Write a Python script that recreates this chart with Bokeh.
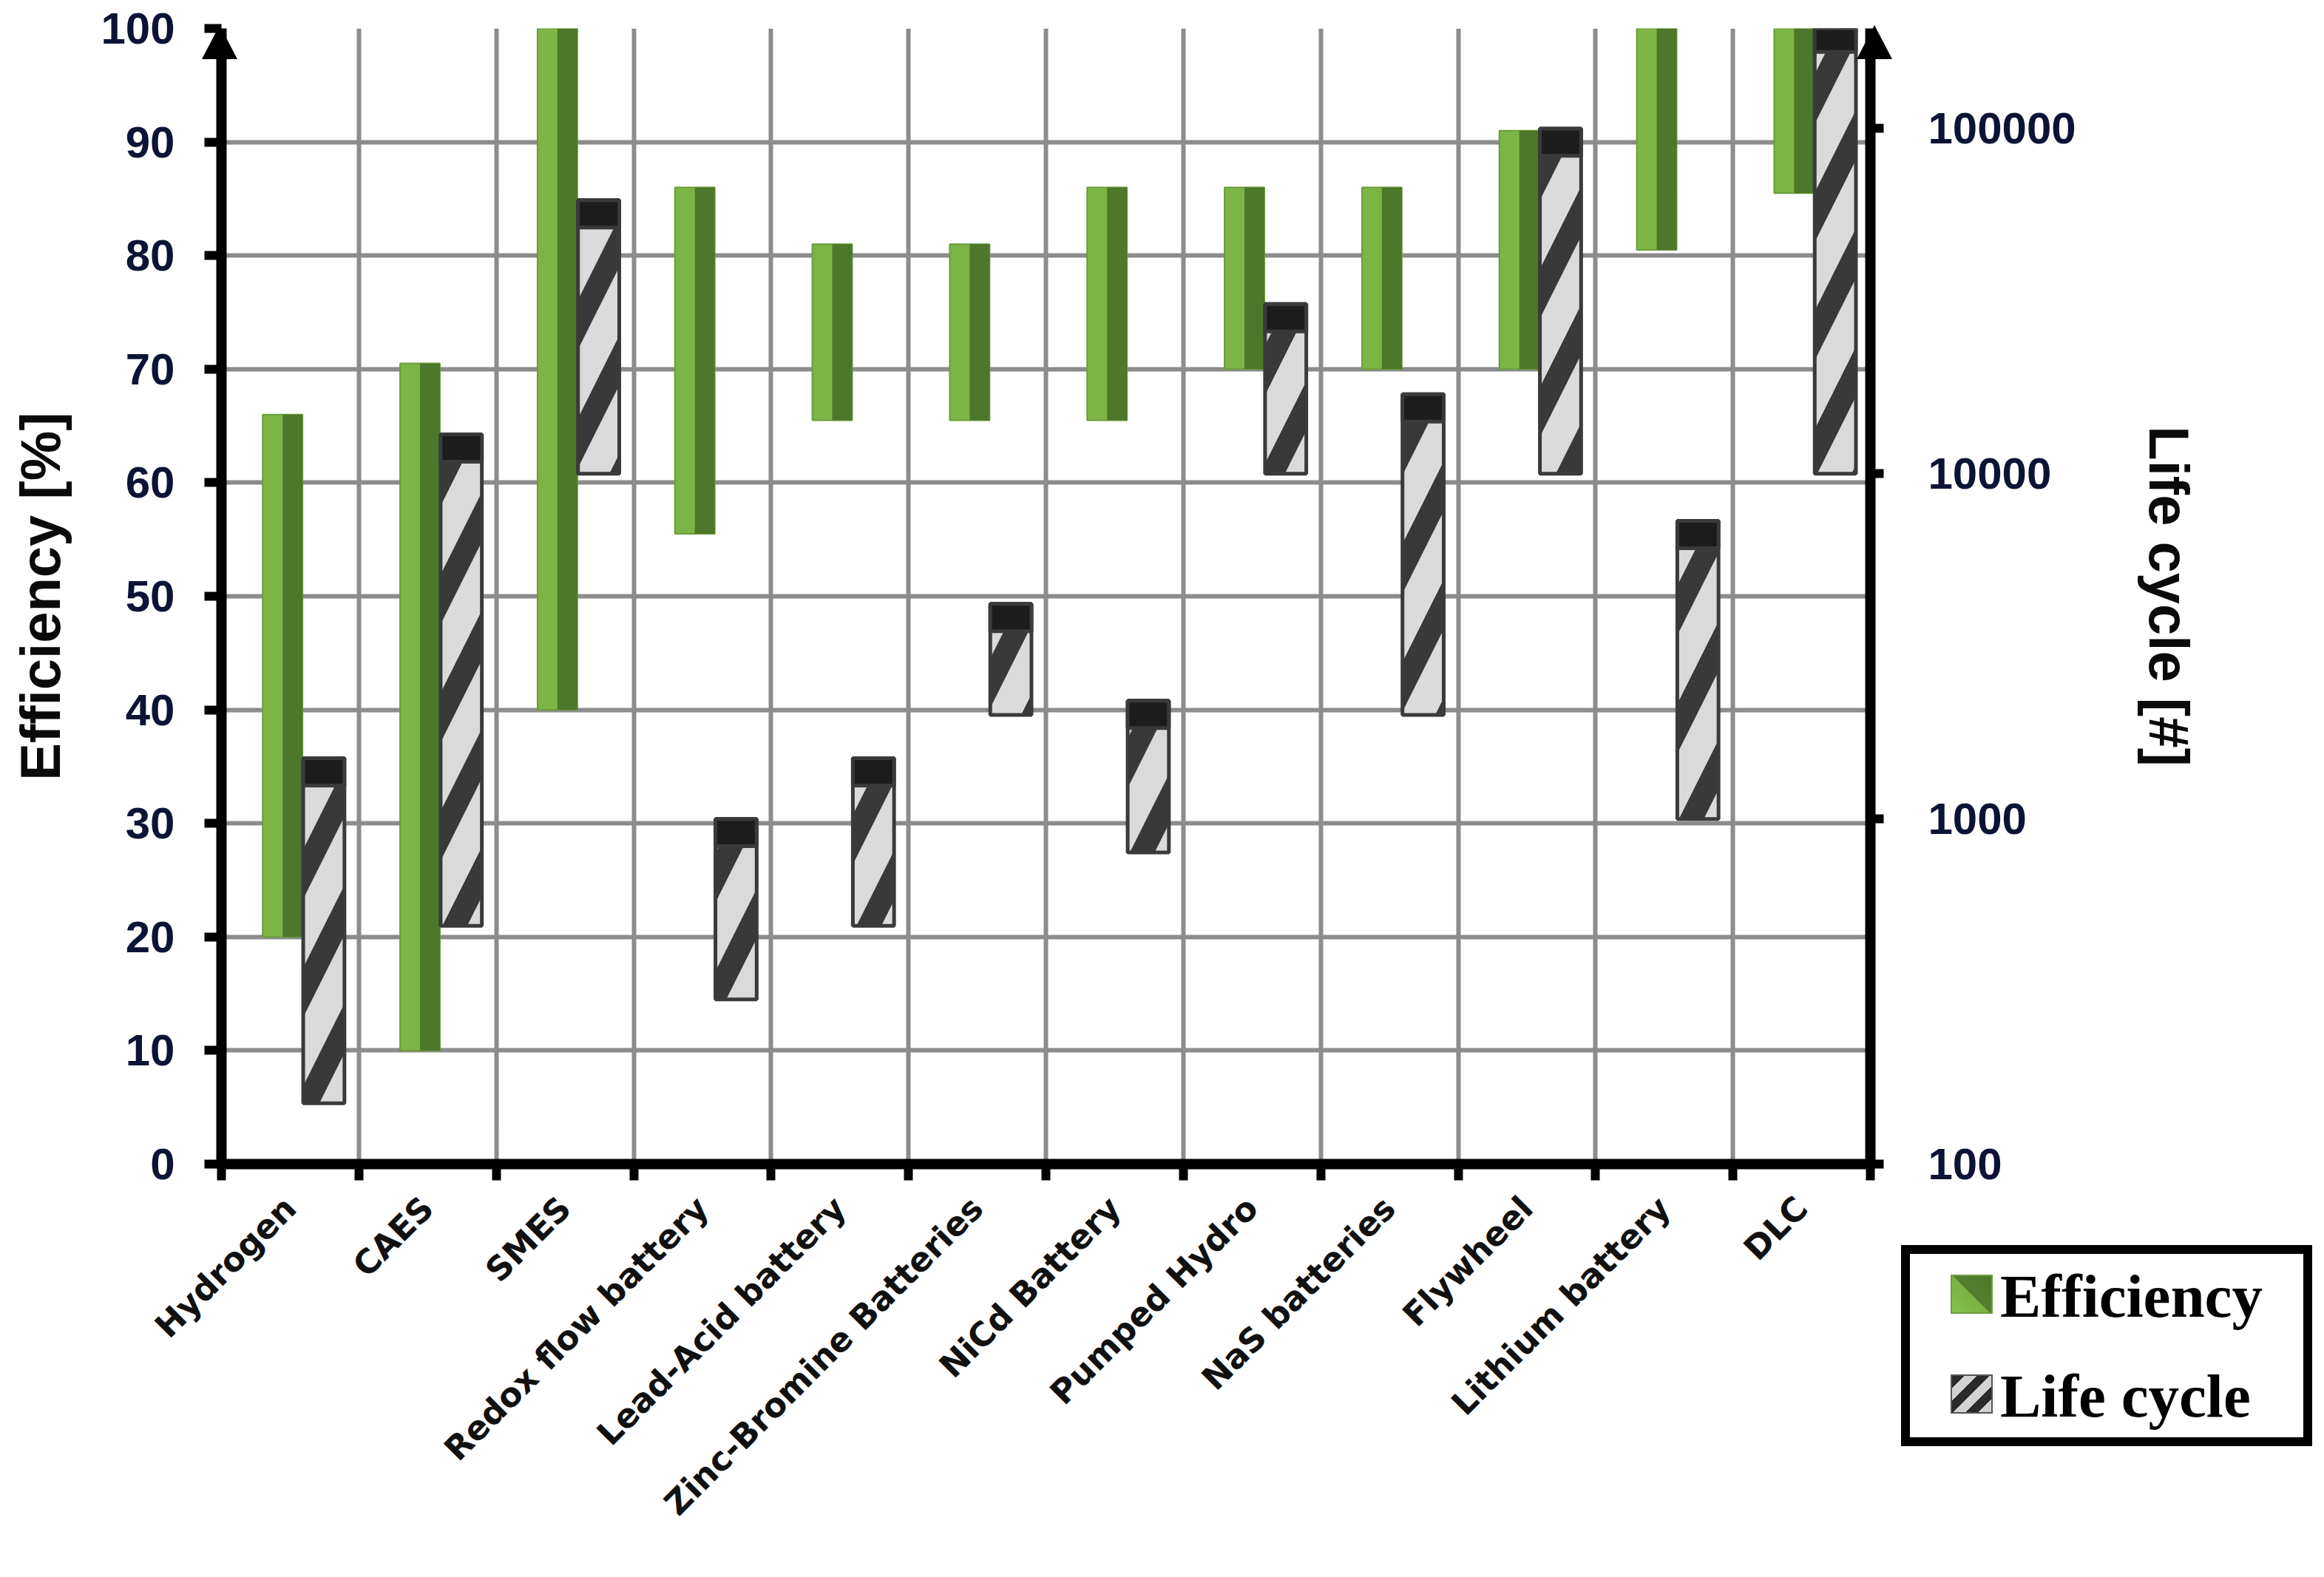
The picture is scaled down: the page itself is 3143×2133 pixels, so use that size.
import math
from bokeh.plotting import figure
from bokeh.layouts import column
from bokeh.models import (Range1d, LogScale, LogAxis, FixedTicker, NumeralTickFormatter, Div)
from bokeh.embed import file_html
from bokeh.resources import INLINE

# ---------------- data ----------------
categories = ["Hydrogen", "CAES", "SMES", "Redox flow battery", "Lead-Acid battery",
              "Zinc-Bromine Batteries", "NiCd Battery", "Pumped Hydro", "NaS batteries",
              "Flywheel", "Lithium battery", "DLC"]
eff_low = [20, 10, 40, 55.5, 65.5, 65.5, 65.5, 70, 70, 70, 80.5, 85.5]
eff_high = [66, 70.5, 100, 86, 81, 81, 86, 86, 86, 91, 100, 100]
life_low = [150, 490, 10000, 300, 490, 2000, 800, 10000, 2000, 10000, 1000, 10000]
life_high = [1500, 13000, 62000, 1000, 1500, 4200, 2200, 31000, 17000, 100000, 7300, 200000]
eff_ticks = [0, 10, 20, 30, 40, 50, 60, 70, 80, 90, 100]
life_ticks = [100, 1000, 10000, 100000]
life_axis_max = 195000
series_names = ["Efficiency", "Life cycle"]

n = len(categories)
idx = list(range(n))
x_lo, x_hi = -0.5, n - 0.5
boundaries = [i - 0.5 for i in range(n + 1)]

GREEN_STYLE = dict(fill_color="#7cb545", line_color="#6a9d3a", line_width=2)
GREY_STYLE = dict(fill_color="#dadada", line_color="#3a3a3a", line_width=5,
                  hatch_pattern="/", hatch_color="#161616", hatch_scale=160,
                  hatch_weight=30, hatch_alpha=0.82)

W, H = 3127, 2117
BL, BR, BT, BB = 299, 598, 38, 543
p = figure(width=W, height=H, x_range=Range1d(x_lo, x_hi), y_range=Range1d(0, 100),
           output_backend="svg", toolbar_location=None,
           min_border_left=BL, min_border_right=BR, min_border_top=BT, min_border_bottom=BB)
p.outline_line_color = None
p.background_fill_color = "white"
p.border_fill_color = "white"

p.extra_y_ranges = {"life": Range1d(life_ticks[0], life_axis_max)}
p.extra_y_scales = {"life": LogScale()}

# ---------------- grids ----------------
p.xgrid[0].ticker = FixedTicker(ticks=boundaries)
p.ygrid[0].ticker = FixedTicker(ticks=eff_ticks)
for g in (p.xgrid[0], p.ygrid[0]):
    g.grid_line_color = "#8c8c8c"
    g.grid_line_width = 6

# ---------------- bars ----------------
green_x = [i - 0.055 for i in idx]
green_dark_x = [x + 0.0725 for x in green_x]
grey_x = [i + 0.245 for i in idx]
cap_bottom = [h / 1.2 for h in life_high]

p.vbar(x=green_x, width=0.29, bottom=eff_low, top=eff_high, **GREEN_STYLE)
p.vbar(x=green_dark_x, width=0.145, bottom=eff_low, top=eff_high,
       fill_color="#4d772a", line_color=None)

p.vbar(x=grey_x, width=0.30, bottom=life_low, top=life_high, y_range_name="life", **GREY_STYLE)
p.vbar(x=grey_x, width=0.30, bottom=cap_bottom, top=life_high, y_range_name="life",
       fill_color="#1c1c1c", line_color="#3a3a3a", line_width=5)

# ---------------- axes ----------------
tick_font = "Liberation Sans"
tick_color = "#0c1436"

xa = p.xaxis[0]
xa.ticker = FixedTicker(ticks=idx, minor_ticks=boundaries)
xa.major_label_overrides = {i: c for i, c in enumerate(categories)}
xa.major_label_orientation = math.pi / 4
xa.major_tick_line_color = None
xa.major_tick_out = 22
xa.major_tick_in = 0
xa.minor_tick_out = 22
xa.minor_tick_in = 0
xa.minor_tick_line_width = 12
xa.minor_tick_line_color = "black"
xa.axis_line_width = 14
xa.axis_line_color = "black"
xa.major_label_text_font = "DejaVu Sans"
xa.major_label_text_font_style = "bold"
xa.major_label_text_font_size = "45px"
xa.major_label_text_color = "#111111"
xa.major_label_standoff = 30

ya = p.yaxis[0]
ya.ticker = FixedTicker(ticks=eff_ticks)
ya.axis_label = "Efficiency [%]"
ya.axis_line_width = 14
ya.axis_line_color = "black"
ya.major_tick_out = 23
ya.major_tick_in = 0
ya.major_tick_line_width = 12
ya.minor_tick_line_color = None
ya.major_label_text_font = tick_font
ya.major_label_text_font_style = "bold"
ya.major_label_text_font_size = "60px"
ya.major_label_text_color = tick_color
ya.major_label_standoff = 40
ya.axis_label_text_font = tick_font
ya.axis_label_text_font_style = "bold"
ya.axis_label_text_font_size = "76px"
ya.axis_label_text_color = "#0a0a0a"
ya.axis_label_standoff = 36

ra = LogAxis(y_range_name="life", ticker=FixedTicker(ticks=life_ticks),
             formatter=NumeralTickFormatter(format="0"), axis_label="Life cycle [#]")
ra.axis_line_width = 14
ra.axis_line_color = "black"
ra.major_tick_out = 18
ra.major_tick_in = 0
ra.major_tick_line_width = 12
ra.minor_tick_line_color = None
ra.major_label_text_font = tick_font
ra.major_label_text_font_style = "bold"
ra.major_label_text_font_size = "60px"
ra.major_label_text_color = tick_color
ra.major_label_standoff = 60
ra.axis_label_text_font = tick_font
ra.axis_label_text_font_style = "bold"
ra.axis_label_text_font_size = "76px"
ra.axis_label_text_color = "#0a0a0a"
ra.axis_label_standoff = 80
p.add_layout(ra, "right")

# ---------------- axis arrow heads (HTML triangles over the ends of the y axes) ----------------
AH_W, AH_H = 48, 46
arrow_html = (f'<div style="width:0;height:0;border-left:{AH_W // 2}px solid transparent;'
              f'border-right:{AH_W // 2}px solid transparent;'
              f'border-bottom:{AH_H}px solid black;"></div>')
arrow_divs = []
for ax_x in (BL - 2, W - BR + 6):
    arrow_divs.append(Div(text=arrow_html, width=AH_W, height=AH_H, margin=0,
                          styles={"position": "absolute", "left": f"{ax_x - AH_W // 2}px",
                                  "top": f"{BT - 4}px", "z-index": "6"}))

# ---------------- legend (HTML box laid over the lower right corner) ----------------
LW, LH = 556, 272
green_swatch = ("background:linear-gradient(45deg,#86c24c 0%,#79b043 50%,#557f2e 50%,#4d772a 100%);"
                "border:2px solid #6a9d3a;")
grey_swatch = ("background:repeating-linear-gradient(135deg,#2a2a2a 0px,#2a2a2a 12px,"
               "#d2d2d2 12px,#d2d2d2 24px);border:2px solid #555555;")
row_tops = [28, 163]
swatches = [green_swatch, grey_swatch]
items_html = ""
for name, sw, top in zip(series_names, swatches, row_tops):
    items_html += (
        f'<div style="position:absolute;left:55px;top:{top}px;width:57px;height:53px;'
        f'box-sizing:border-box;{sw}"></div>'
        f'<div style="position:absolute;left:122px;top:{top - 12}px;line-height:83px;'
        f'white-space:nowrap;">{name}</div>')
legend_html = (
    f'<div style="position:relative;box-sizing:border-box;width:{LW}px;height:{LH}px;'
    f'border:12px solid black;background:white;font-family:\'Liberation Serif\',serif;'
    f'font-weight:bold;font-size:83px;color:black;">{items_html}</div>')
legend_div = Div(text=legend_html, width=LW, height=LH, margin=0,
                 styles={"position": "absolute", "left": f"{W - LW}px", "top": "1684px",
                         "z-index": "5"})

layout = column(p, legend_div, *arrow_divs, spacing=0)
open("out.html", "w").write(file_html(layout, INLINE))
